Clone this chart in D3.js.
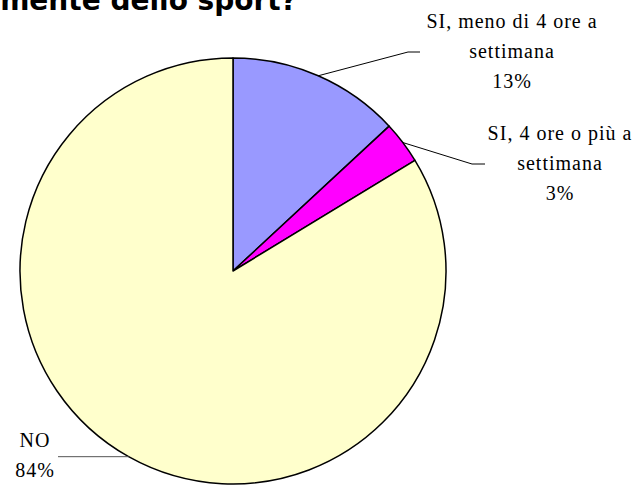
<!DOCTYPE html>
<html>
<head>
<meta charset="utf-8">
<script src="https://cdn.jsdelivr.net/npm/d3@7"></script>
<style>
  body { margin: 0; background: #fff; }
  svg { display: block; }
</style>
</head>
<body>
<div id="chart"></div>
<script>
// dati
var categories = ["SI, meno di 4 ore a settimana", "SI, 4 ore o più a settimana", "NO"];
var labelLines = [["SI, meno di 4 ore a", "settimana"], ["SI, 4 ore o più a", "settimana"], ["NO"]];
var values = [13.1, 3.2, 83.7];
var colors = ["#9999FF", "#FF00FF", "#FFFFCC"];
var title = "Pratichi regolarmente dello sport?";

var width = 640, height = 485,
    cx = 233, cy = 271, radius = 213;

// posizione delle etichette (gomito della linea guida e centro del testo)
var labelPos = [
  {elbow: [408, 52], end: 420, tx: 512, ty: 28},
  {elbow: [472, 164], end: 485, tx: 560, ty: 140},
  {elbow: null, end: 58, tx: 35, ty: 447}
];

var svg = d3.select("#chart")
  .append("svg")
    .attr("width", width)
    .attr("height", height);

svg.append("text")
    .attr("x", 297)
    .attr("y", 10)
    .attr("text-anchor", "end")
    .style("font-family", "'DejaVu Sans', Verdana, sans-serif")
    .style("font-weight", "bold")
    .style("font-size", "28px")
    .text(title);

var pie = d3.pie().sort(null).value(d => d);
var arcs = pie(values);
var arc = d3.arc().innerRadius(0).outerRadius(radius);

var g = svg.append("g")
    .attr("transform", "translate(" + cx + "," + cy + ")");

g.selectAll("path.slice")
  .data(arcs)
  .enter().append("path")
    .attr("class", "slice")
    .attr("d", arc)
    .attr("fill", (d, i) => colors[i])
    .attr("stroke", "#000")
    .attr("stroke-width", 1.5)
    .attr("stroke-linejoin", "round");

// linee guida
arcs.forEach(function(d, i) {
  var a = (d.startAngle + d.endAngle) / 2;
  var p0 = [cx + radius * Math.sin(a), cy - radius * Math.cos(a)];
  var lp = labelPos[i];
  var pts = [p0];
  if (lp.elbow) {
    pts.push(lp.elbow);
    pts.push([lp.end, lp.elbow[1]]);
  } else {
    pts.push([lp.end, p0[1]]);
  }
  svg.append("path")
      .attr("d", d3.line()(pts))
      .attr("fill", "none")
      .attr("stroke", i == 2 ? "#555" : "#000")
      .attr("stroke-width", 1);

  var t = svg.append("text")
      .attr("text-anchor", "middle")
      .style("font-family", "'Liberation Serif', 'Times New Roman', serif")
      .style("font-size", "20px")
      .style("letter-spacing", "1px")
      .attr("fill", "#000");
  var lines = labelLines[i].concat([d3.format(".0f")(values[i]) + "%"]);
  lines.forEach(function(s, k) {
    t.append("tspan")
        .attr("x", lp.tx)
        .attr("y", lp.ty + k * 30)
        .text(s);
  });
});
</script>
</body>
</html>
